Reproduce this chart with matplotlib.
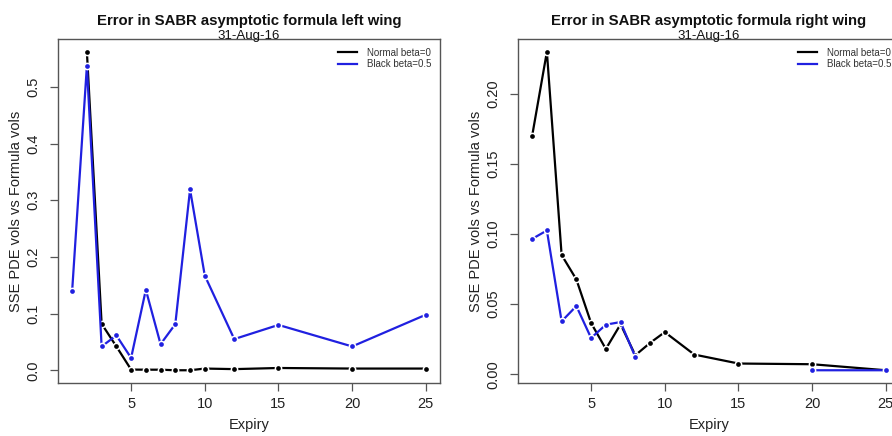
#SABR asymptotic formula error plot, left and right wing
#import libraries
import numpy as np
import matplotlib
matplotlib.use("Agg")
import matplotlib.pyplot as plt

#data
expiry = [1, 2, 3, 4, 5, 6, 7, 8, 9, 10, 12, 15, 20, 25]
left_normal = [np.nan, 0.562, 0.082, 0.042, 0.0012, 0.001, 0.001, 0.0, 0.0, 0.003, 0.002, 0.004, 0.003, 0.003]
left_black = [0.140, 0.537, 0.042, 0.0615, 0.0217, 0.142, 0.046, 0.0814, 0.319, 0.167, 0.055, 0.080, 0.042, 0.098]
right_normal = [0.170, 0.230, 0.085, 0.0676, 0.0365, 0.018, 0.0356, 0.0135, 0.0223, 0.030, 0.014, 0.0076, 0.0071, 0.0028]
right_black = [0.0965, 0.1025, 0.0377, 0.0486, 0.0258, 0.0353, 0.0372, 0.0123, np.nan, np.nan, np.nan, np.nan, 0.0028, 0.0028]
left_yticks = [0.0, 0.1, 0.2, 0.3, 0.4, 0.5]
left_ylabels = ["0.0", "0.1", "0.2", "0.3", "0.4", "0.5"]
right_yticks = [0.0, 0.05, 0.10, 0.15, 0.20]
right_ylabels = ["0.00", "0.05", "0.10", "0.15", "0.20"]
xticks = [5, 10, 15, 20, 25]
series_names = ["Normal beta=0", "Black beta=0.5"]
date = "31-Aug-16"

plt.rcParams["font.family"] = ["Liberation Sans", "DejaVu Sans"]
fs = 10.5
W, H = 892, 436
fig = plt.figure(figsize=(W / 100, H / 100), dpi=100)

#axes boxes in pixels (left, top, right, bottom)
boxes = [(58, 39, 440, 383), (518, 39, 900, 383)]


def draw_panel(box, normal, black, yticks, ylabels, title):
    l, t, r, b = box
    w, h = r - l, b - t
    ax = fig.add_axes([l / W, (H - b) / H, w / W, h / H])
    x = np.array(expiry, dtype=float)
    # R style limits: 4% padding
    ax.set_xlim(x.min() - 0.04 * (x.max() - x.min()), x.max() + 0.04 * (x.max() - x.min()))
    vals = np.concatenate([np.array(normal), np.array(black)])
    lo, hi = np.nanmin(vals), np.nanmax(vals)
    ax.set_ylim(lo - 0.04 * (hi - lo), hi + 0.04 * (hi - lo))

    for ys, col in [(normal, "black"), (black, "#2020e0")]:
        ax.plot(x, ys, color=col, lw=1.6, solid_capstyle="butt")
        ax.plot(x, ys, ls="none", marker="o", ms=3.4, color=col,
                markeredgecolor="white", markeredgewidth=2.2)
        ax.plot(x, ys, ls="none", marker="o", ms=3.4, color=col, markeredgewidth=0)

    ax.set_xticks(xticks)
    ax.set_yticks(yticks)
    ax.set_yticklabels(ylabels, rotation=90, va="center")
    ax.tick_params(axis="x", direction="out", length=6, width=0.9, pad=4,
                   labelsize=fs, colors="#555555", labelcolor="#222222")
    ax.tick_params(axis="y", direction="out", length=6, width=0.9, pad=7,
                   labelsize=fs, colors="#555555", labelcolor="#222222")
    for s in ax.spines.values():
        s.set_color("#555555")
        s.set_linewidth(1.0)

    ax.set_xlabel("Expiry", fontsize=fs, color="#222222", va="center")
    ax.xaxis.set_label_coords(0.5, -(425 - b) / h)
    ax.set_ylabel("SSE PDE vols vs Formula vols", fontsize=fs, color="#222222", va="center")
    ax.yaxis.set_label_coords(-42.0 / w, 0.5)

    ax.text(0.5, 1.0 + 14.5 / h, title, transform=ax.transAxes, ha="center",
            va="baseline", fontsize=10.7, fontweight="bold", color="#111111")
    ax.text(0.5, 1.0 + 0.5 / h, date, transform=ax.transAxes, ha="center",
            va="baseline", fontsize=9.5, color="#111111")

    handles = [plt.Line2D([], [], color="black", lw=1.6),
               plt.Line2D([], [], color="#2020e0", lw=1.6)]
    ax.legend(handles, series_names, loc="upper right", frameon=False, fontsize=7,
              handlelength=2.0, handletextpad=1.0, labelspacing=0.15,
              borderaxespad=0.5, labelcolor="#333333")
    return ax


ax1 = draw_panel(boxes[0], left_normal, left_black, left_yticks, left_ylabels,
                 "Error in SABR asymptotic formula left wing")
ax2 = draw_panel(boxes[1], right_normal, right_black, right_yticks, right_ylabels,
                 "Error in SABR asymptotic formula right wing")

plt.savefig("out.png", dpi=100)
